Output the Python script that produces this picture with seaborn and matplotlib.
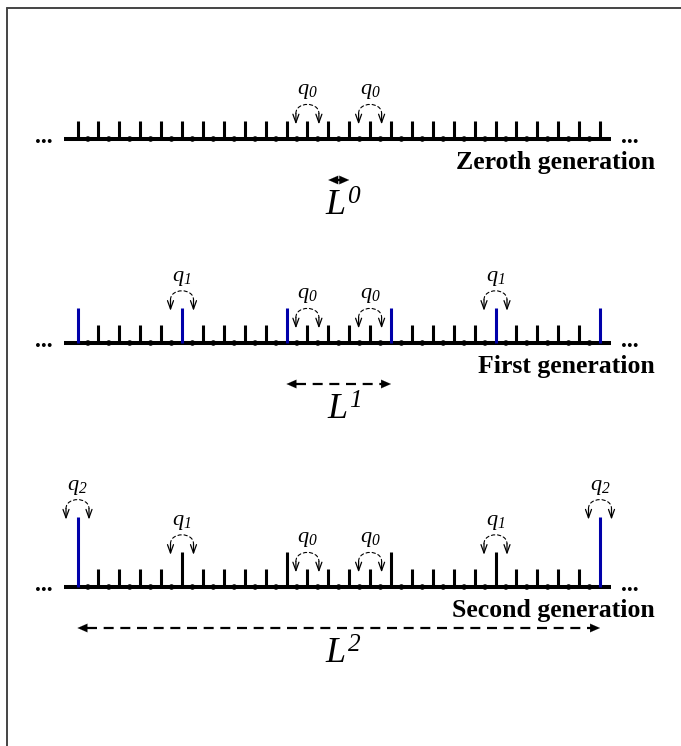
import numpy as np
import matplotlib
matplotlib.use("Agg")
import matplotlib.pyplot as plt
import seaborn as sns
from matplotlib.path import Path
from matplotlib.patches import FancyArrowPatch
from matplotlib.lines import Line2D

# ---------------- data ----------------
generations = ["Zeroth generation", "First generation", "Second generation"]
tick_index = list(range(26))
dot_index = [k + 0.5 for k in range(25)]
heights_gen0 = [1, 1, 1, 1, 1, 1, 1, 1, 1, 1, 1, 1, 1, 1, 1, 1, 1, 1, 1, 1, 1, 1, 1, 1, 1, 1]
heights_gen1 = [2, 1, 1, 1, 1, 2, 1, 1, 1, 1, 2, 1, 1, 1, 1, 2, 1, 1, 1, 1, 2, 1, 1, 1, 1, 2]
heights_gen2 = [4, 1, 1, 1, 1, 2, 1, 1, 1, 1, 2, 1, 1, 1, 1, 2, 1, 1, 1, 1, 2, 1, 1, 1, 1, 4]
blue_gen0 = []
blue_gen1 = [0, 5, 10, 15, 20, 25]
blue_gen2 = [0, 25]
q_ticks_gen0 = [11, 14]
q_subs_gen0 = ["0", "0"]
q_ticks_gen1 = [5, 11, 14, 20]
q_subs_gen1 = ["1", "0", "0", "1"]
q_ticks_gen2 = [0, 5, 11, 14, 20, 25]
q_subs_gen2 = ["2", "1", "0", "0", "1", "2"]
L_start = [12, 10, 0]
L_end = [13, 15, 25]
L_sup = ["0", "1", "2"]

heights = [heights_gen0, heights_gen1, heights_gen2]
blues = [blue_gen0, blue_gen1, blue_gen2]
q_ticks = [q_ticks_gen0, q_ticks_gen1, q_ticks_gen2]
q_subs = [q_subs_gen0, q_subs_gen1, q_subs_gen2]

# ---------------- style / layout ----------------
sns.set_theme(style="white")
plt.rcParams["font.family"] = ["Liberation Serif", "DejaVu Serif"]
plt.rcParams["mathtext.fontset"] = "custom"
plt.rcParams["mathtext.it"] = "Liberation Serif:italic"
plt.rcParams["mathtext.rm"] = "Liberation Serif:italic"

W, H, DPI = 681, 746, 100
BLUE = "#0000aa"
x0_px, dx_px, unit_px = 77.5, 20.9, 17.6
baseline_px = [139, 343, 587]

fig = plt.figure(figsize=(W / DPI, H / DPI), dpi=DPI)
fig.patch.set_facecolor("white")


def px(v):
    return v / unit_px


for g in range(3):
    b = baseline_px[g]
    ax = fig.add_axes([0, 0, 1, 1])
    ax.set_xlim(-x0_px / dx_px, (W - x0_px) / dx_px)
    ax.set_ylim((b - H) / unit_px, b / unit_px)
    ax.axis("off")
    ax.patch.set_alpha(0)

    # baseline
    ax.plot([-0.65, 25.55], [0, 0], color="black", lw=2.9, solid_capstyle="butt", zorder=2)
    # ticks
    h = heights[g]
    cols = [BLUE if k in blues[g] else "black" for k in tick_index]
    ax.vlines(tick_index, 0, h, colors=cols, lw=2.2, zorder=3)
    # dots
    sns.scatterplot(x=dot_index, y=[0] * len(dot_index), s=16, color="black",
                    edgecolor="none", ax=ax, legend=False, zorder=4)
    # ellipses
    for xe in [-1.6, 26.45]:
        ax.text(xe, -px(4), "...", ha="center", va="baseline", fontsize=17,
                fontweight="bold", color="black")
    # generation label
    ax.text((655 - x0_px) / dx_px, -px(23), generations[g], ha="right", va="center",
            fontsize=18.5, fontweight="bold", color="black")

    # q annotations
    for k, sub in zip(q_ticks[g], q_subs[g]):
        top = h[k]
        xl, xr = k - 0.55, k + 0.55
        y_tail = top + px(8)
        y_tip = top - px(3)
        y_ctrl = top + px(8) + px(12)
        arc = Path([(xl, y_tail), (xl, y_ctrl), (xr, y_ctrl), (xr, y_tail)],
                   [Path.MOVETO, Path.CURVE4, Path.CURVE4, Path.CURVE4])
        patch = FancyArrowPatch(path=arc, arrowstyle="-", lw=0.8, color="black",
                                linestyle=(0, (3, 2.5)))
        ax.add_patch(patch)
        for xa in (xl, xr):
            ax.annotate("", xy=(xa, y_tip), xytext=(xa, y_tail),
                        arrowprops=dict(arrowstyle="->,head_length=0.5,head_width=0.18",
                                        lw=0.9, color="black", shrinkA=0, shrinkB=0,
                                        mutation_scale=12))
        ax.text(k, top + px(20), r"$q_{%s}$" % sub, ha="center",
                va="bottom", fontsize=16, color="black")

    # L arrows
    xs, xe = L_start[g], L_end[g]
    ya = -px(41)
    head = 0.45
    if xe - xs > 2 * head:
        ax.plot([xs + head, xe - head], [ya, ya], color="black", lw=1.6,
                linestyle=(0, (4.5, 3)))
    for xend, xfrom in ((xs, xs + head), (xe, xe - head)):
        ax.annotate("", xy=(xend, ya), xytext=(xfrom, ya),
                    arrowprops=dict(arrowstyle="-|>,head_length=0.5,head_width=0.22",
                                    lw=0.1, color="black", shrinkA=0, shrinkB=0,
                                    mutation_scale=14))
    ax.text((xs + xe) / 2 + 0.25, -px(52), r"$L^{%s}$" % L_sup[g],
            ha="center", va="top", fontsize=26, color="black")

# frame lines
fig.add_artist(Line2D([7 / W, 7 / W], [0, 1 - 8 / H], color="#444444", lw=1.4))
fig.add_artist(Line2D([7 / W, 1], [1 - 8 / H, 1 - 8 / H], color="#444444", lw=1.4))

fig.savefig("out.png", dpi=DPI, facecolor="white")
